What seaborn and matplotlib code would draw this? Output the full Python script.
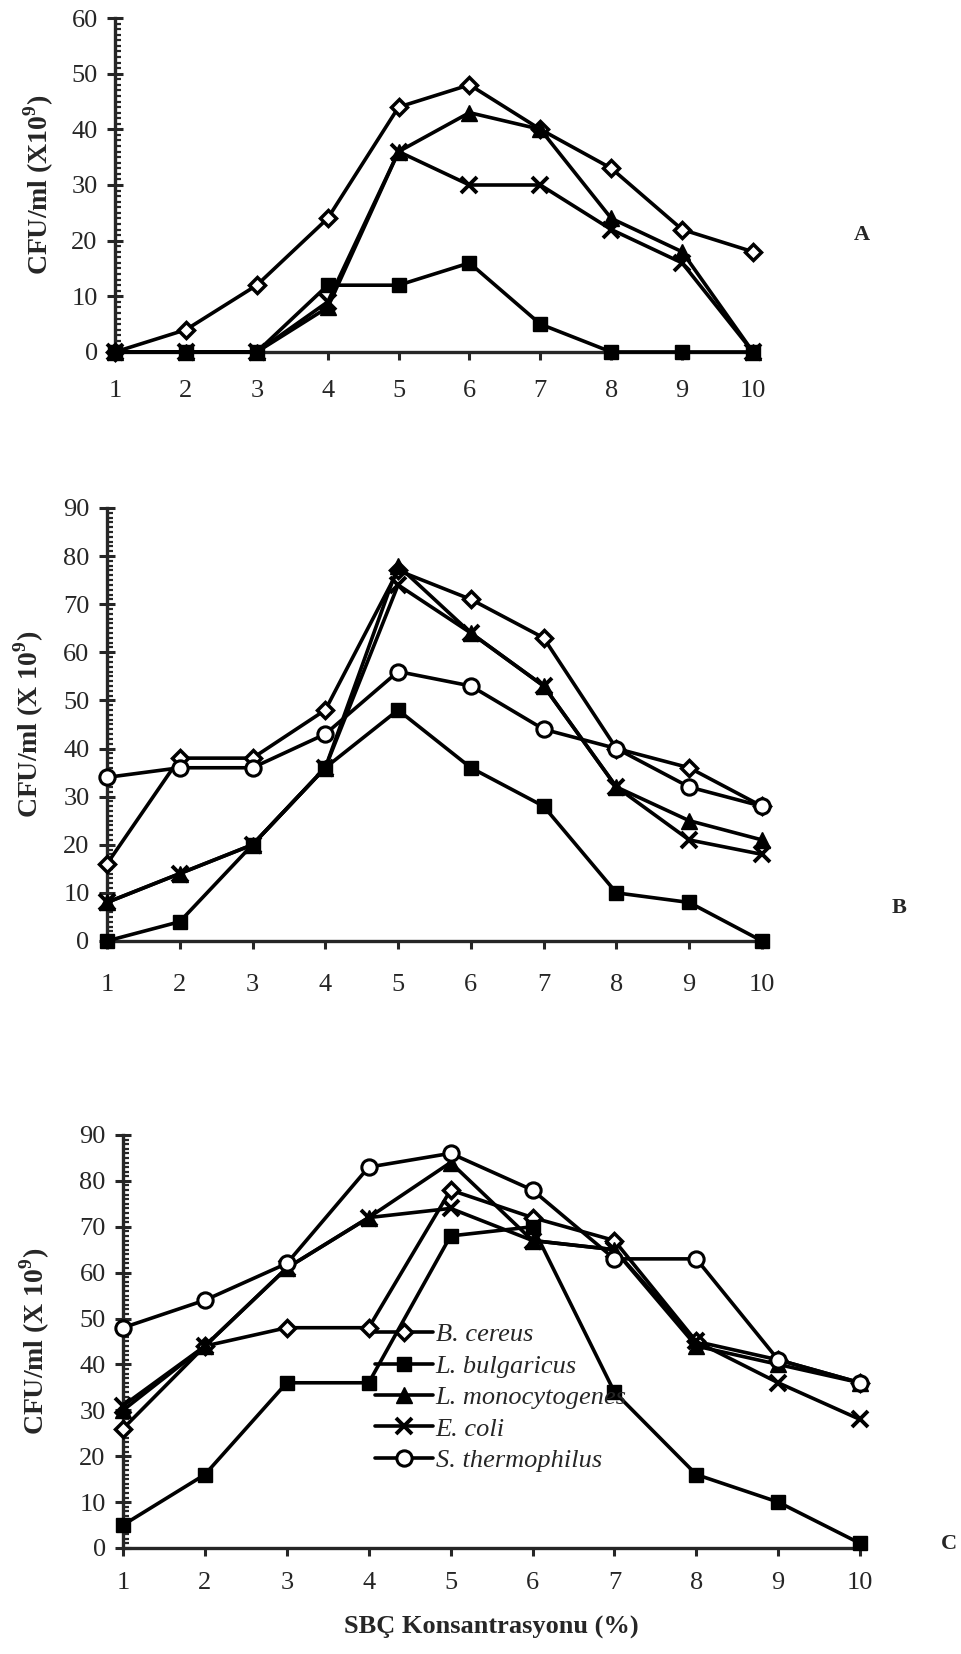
import matplotlib
matplotlib.use('Agg')
import matplotlib.pyplot as plt
import seaborn as sns
from matplotlib.ticker import MultipleLocator
from matplotlib.font_manager import FontProperties

# concentrations (%)
conc = [1, 2, 3, 4, 5, 6, 7, 8, 9, 10]
species = ['B. cereus', 'L. bulgaricus', 'L. monocytogenes', 'E. coli', 'S. thermophilus']

# Panel A (CFU/ml x10^9)
a_cereus = [0, 4, 12, 24, 44, 48, 40, 33, 22, 18]
a_bulgaricus = [0, 0, 0, 12, 12, 16, 5, 0, 0, 0]
a_mono = [0, 0, 0, 8, 36, 43, 40, 24, 18, 0]
a_coli = [0, 0, 0, 9, 36, 30, 30, 22, 16, 0]

# Panel B
b_cereus = [16, 38, 38, 48, 77, 71, 63, 40, 36, 28]
b_bulgaricus = [0, 4, 20, 36, 48, 36, 28, 10, 8, 0]
b_mono = [8, 14, 20, 36, 78, 64, 53, 32, 25, 21]
b_coli = [8, 14, 20, 36, 74, 64, 53, 32, 21, 18]
b_thermo = [34, 36, 36, 43, 56, 53, 44, 40, 32, 28]

# Panel C
c_cereus = [26, 44, 48, 48, 78, 72, 67, 45, 41, 36]
c_bulgaricus = [5, 16, 36, 36, 68, 70, 34, 16, 10, 1]
c_mono = [30, 44, 61, 72, 84, 67, 65, 44, 40, 36]
c_coli = [31, 44, 61, 72, 74, 67, 65, 45, 36, 28]
c_thermo = [48, 54, 62, 83, 86, 78, 63, 63, 41, 36]

panel_a = {'B. cereus': a_cereus, 'L. bulgaricus': a_bulgaricus,
           'L. monocytogenes': a_mono, 'E. coli': a_coli}
panel_b = {'B. cereus': b_cereus, 'L. bulgaricus': b_bulgaricus,
           'L. monocytogenes': b_mono, 'E. coli': b_coli, 'S. thermophilus': b_thermo}
panel_c = {'B. cereus': c_cereus, 'L. bulgaricus': c_bulgaricus,
           'L. monocytogenes': c_mono, 'E. coli': c_coli, 'S. thermophilus': c_thermo}

# marker styles per species
marker_style = {
    'B. cereus': dict(marker='D', markersize=8.5, markerfacecolor='white', markeredgewidth=2.5),
    'L. bulgaricus': dict(marker='s', markersize=10.5, markerfacecolor='black', markeredgewidth=1),
    'L. monocytogenes': dict(marker='^', markersize=11, markerfacecolor='black', markeredgewidth=1),
    'E. coli': dict(marker='x', markersize=11.5, markerfacecolor='black', markeredgewidth=2.8),
    'S. thermophilus': dict(marker='o', markersize=11, markerfacecolor='white', markeredgewidth=2.2),
}

sns.set_style('ticks')
plt.rcParams['font.family'] = ['Liberation Serif', 'DejaVu Serif']
plt.rcParams['mathtext.fontset'] = 'custom'
plt.rcParams['mathtext.rm'] = 'Liberation Serif'
plt.rcParams['mathtext.bf'] = 'Liberation Serif:bold'

fig = plt.figure(figsize=(9.61, 16.54), dpi=100)

panels = [
    # data, axes rect, ymax, ylabel, letter, letter pos, xtick pad
    (panel_a, [0.1197, 0.7872, 0.6639, 0.2019], 60, r'CFU/ml (X10$^{\mathbf{9}}$)', 'A', (1.17, 0.35), 15),
    (panel_b, [0.1113, 0.4311, 0.6816, 0.2618], 90, r'CFU/ml (X 10$^{\mathbf{9}}$)', 'B', (1.21, 0.075), 18),
    (panel_c, [0.1280, 0.0641, 0.7670, 0.2497], 90, r'CFU/ml (X 10$^{\mathbf{9}}$)', 'C', (1.12, 0.01), 12),
]

axes = []
for data, rect, ymax, ylab, letter, lpos, xpad in panels:
    ax = fig.add_axes(rect)
    for name in species:
        if name not in data:
            continue
        sns.lineplot(x=conc, y=data[name], ax=ax, color='black', linewidth=2.6,
                     label=name, legend=False, markeredgecolor='black',
                     clip_on=False, zorder=3, **marker_style[name])
    ax.set_xlim(1, 10)
    ax.set_ylim(0, ymax)
    ax.set_xticks(conc)
    ax.yaxis.set_major_locator(MultipleLocator(10))
    ax.yaxis.set_minor_locator(MultipleLocator(1))
    sns.despine(ax=ax)
    for sp in ['left', 'bottom']:
        ax.spines[sp].set_linewidth(2.4)
    ax.tick_params(axis='y', which='major', direction='inout', length=11, width=2.2,
                   labelsize=19, pad=7)
    ax.tick_params(axis='y', which='minor', direction='in', length=4.5, width=1.6)
    ax.tick_params(axis='x', which='major', direction='out', length=5.5, width=2.2,
                   labelsize=19, pad=xpad)
    ax.set_ylabel(ylab, fontsize=20, fontweight='bold', va='center')
    ax.yaxis.set_label_coords(-0.12, 0.5)
    ax.text(lpos[0], lpos[1], letter, transform=ax.transAxes, fontsize=16,
            fontweight='bold', ha='center', va='center')
    axes.append(ax)

ax_c = axes[2]
ax_c.set_xlabel('SBÇ Konsantrasyonu (%)', fontsize=19, fontweight='bold')
ax_c.xaxis.set_label_coords(0.5, -0.165)
ax_c.legend(loc='upper left', bbox_to_anchor=(0.342, 0.545), frameon=False,
            prop=FontProperties(family='Liberation Serif', style='italic', size=19),
            handlelength=2.2, handletextpad=0.1, labelspacing=0.3,
            borderaxespad=0, borderpad=0)

fig.savefig('out.png', dpi=100, facecolor='white')
